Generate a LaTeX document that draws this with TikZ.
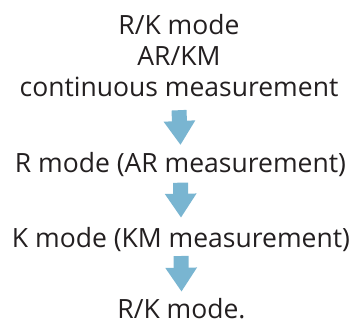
\documentclass[tikz,border=0pt]{standalone}
\usepackage{fontspec}
\setmainfont{Open Sans}
\usetikzlibrary{arrows.meta}
\definecolor{flowblue}{RGB}{121,181,209}
\definecolor{inkgray}{RGB}{35,31,32}
\begin{document}
\begin{tikzpicture}[x=1bp,y=-1bp,
        steptext/.style={font=\fontsize{26.5bp}{31.2bp}\selectfont, text=inkgray, inner sep=0pt, anchor=base, align=center},
        flow/.style={flowblue, line width=15bp, -{Triangle[width=30bp,length=24bp]}}]
        \useasboundingbox (0,0) rectangle (355,323);

        \node[steptext] (rk) at (179,96.7) {R/K mode\\AR/KM\\continuous measurement};
        \node[steptext] (rmode) at (180.5,172.7) {R mode (AR measurement)};
        \node[steptext] (kmode) at (181,247) {K mode (KM measurement)};
        \node[steptext] (rkend) at (181.5,318) {R/K mode.};

        \draw[flow] ([yshift=-13.5bp]rk.base) -- ([yshift=27.7bp]rmode.base);
        \draw[flow] ([yshift=-10bp]rmode.base) -- ([yshift=29.3bp]kmode.base);
        \draw[flow] ([yshift=-9bp]kmode.base) -- ([yshift=26.3bp]rkend.base);
    \end{tikzpicture}
\end{document}
